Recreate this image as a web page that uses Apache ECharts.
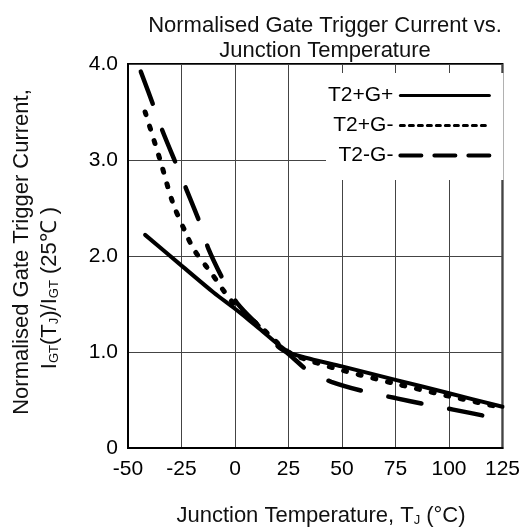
<!DOCTYPE html>
<html><head><meta charset="utf-8">
<script src="https://cdn.jsdelivr.net/npm/echarts@6/dist/echarts.min.js"></script>
<style>html,body{margin:0;padding:0;background:#fff}#c{width:523px;height:532px}</style>
</head><body><div id="c"></div>
<script>
// ---- data ----
const seriesNames = ['T2+G+', 'T2+G-', 'T2-G-'];
const tempSolid = [-42, -25, -10, 0, 10, 25, 35, 50, 75, 100, 125];
const valSolid  = [2.22, 1.90, 1.62, 1.45, 1.27, 1.0, 0.93, 0.85, 0.71, 0.57, 0.43];
const tempDot = [-42, -35, -29, -23, -19, -11, -2, 4, 12, 25, 35, 50, 75, 100, 125];
const valDot  = [3.50, 3.00, 2.55, 2.24, 2.06, 1.82, 1.54, 1.41, 1.26, 1.0, 0.91, 0.81, 0.67, 0.54, 0.42];
const tempDash = [-44, -38, -34, -27, -23, -16, -12.5, -5, 1, 12, 20, 25, 35, 45, 62, 75, 90, 102, 120];
const valDash  = [3.92, 3.56, 3.31, 2.93, 2.71, 2.32, 2.08, 1.73, 1.51, 1.25, 1.06, 0.98, 0.79, 0.69, 0.58, 0.52, 0.45, 0.40, 0.32];
const xTicks = [-50, -25, 0, 25, 50, 75, 100, 125];
const yTicks = ['0', '1.0', '2.0', '3.0', '4.0'];

const pairs = (xs, ys) => xs.map((x, i) => [x, ys[i]]);
const FONT = '"Liberation Sans", Arial, Helvetica, sans-serif';

const chart = echarts.init(document.getElementById('c'), null, {renderer: 'canvas'});
chart.setOption({
  animation: false,
  backgroundColor: '#fff',
  textStyle: {fontFamily: FONT, color: '#000'},
  title: {
    text: 'Normalised Gate Trigger Current vs.\nJunction Temperature',
    left: 320, top: 8, textAlign: 'center',
    textStyle: {fontFamily: FONT, fontSize: 22, fontWeight: 'normal', color: '#111', lineHeight: 25}
  },
  grid: {left: 128, right: 11, top: 64, bottom: 84, show: true, borderColor: '#000', borderWidth: 2, backgroundColor: 'transparent'},
  xAxis: {
    type: 'value', min: -50, max: 125, interval: 25,
    axisLine: {show: true, onZero: false, lineStyle: {color: '#000', width: 2}},
    axisTick: {show: false},
    splitLine: {show: true, lineStyle: {color: '#444', width: 1}},
    axisLabel: {fontFamily: FONT, fontSize: 21, color: '#000', margin: 11,
      formatter: v => String(xTicks[xTicks.indexOf(v)])}
  },
  yAxis: {
    type: 'value', min: 0, max: 4, interval: 1,
    axisLine: {show: true, onZero: false, lineStyle: {color: '#000', width: 2}},
    axisTick: {show: false},
    splitLine: {show: true, lineStyle: {color: '#444', width: 1}},
    axisLabel: {fontFamily: FONT, fontSize: 21, color: '#000', margin: 10,
      formatter: v => yTicks[Math.round(v)]}
  },
  legend: {
    orient: 'vertical', left: 326, top: 73, align: 'right',
    backgroundColor: '#fff', padding: [12, 12, 14, 2],
    itemWidth: 89, itemHeight: 14, itemGap: 9,
    textStyle: {fontFamily: FONT, fontSize: 21, color: '#000', padding: [0, 2, 0, 0]},
    data: [
      {name: seriesNames[0], itemStyle: {opacity: 0}, lineStyle: {color: '#000', width: 3, type: 'solid'}},
      {name: seriesNames[1], itemStyle: {opacity: 0}, lineStyle: {color: '#000', width: 3, type: [4, 5]}},
      {name: seriesNames[2], itemStyle: {opacity: 0}, lineStyle: {color: '#000', width: 4, type: [21, 13]}}
    ]
  },
  series: [
    {name: seriesNames[0], type: 'line', data: pairs(tempSolid, valSolid), smooth: 0.3, symbol: 'none',
     lineStyle: {color: '#000', width: 4, type: 'solid', cap: 'round'}, itemStyle: {color: '#000'}, z: 3},
    {name: seriesNames[1], type: 'line', data: pairs(tempDot, valDot), smooth: 0.3, symbol: 'none',
     lineStyle: {color: '#000', width: 5, type: [3, 12], cap: 'round'}, itemStyle: {color: '#000'}, z: 3},
    {name: seriesNames[2], type: 'line', data: pairs(tempDash, valDash), smooth: 0.3, symbol: 'none',
     lineStyle: {color: '#000', width: 4.5, type: [34, 28], cap: 'round'}, itemStyle: {color: '#000'}, z: 3}
  ],
  graphic: [
    {type: 'text', x: 22, y: 252, rotation: Math.PI / 2,
     style: {text: 'Normalised Gate Trigger Current,', font: '22px ' + FONT, fill: '#111', align: 'center', verticalAlign: 'middle'}},
    {type: 'text', x: 50, y: 288, rotation: Math.PI / 2,
     style: {text: '{n|I}{s|GT}{n|(T}{s|J}{n|)/I}{s|GT}{n| (25℃ )}', align: 'center', verticalAlign: 'middle', fill: '#111',
       rich: {n: {fontFamily: FONT, fontSize: 22, fill: '#111'}, s: {fontFamily: FONT, fontSize: 13, fill: '#111', padding: [9, 0, 0, 0]}}}},
    {type: 'text', x: 321, y: 516,
     style: {text: '{n|Junction Temperature, T}{s|J}{n| (°C)}', align: 'center', verticalAlign: 'middle', fill: '#111',
       rich: {n: {fontFamily: FONT, fontSize: 22, fill: '#111'}, s: {fontFamily: FONT, fontSize: 13, fill: '#111', padding: [9, 0, 0, 0]}}}}
  ]
});
</script></body></html>
